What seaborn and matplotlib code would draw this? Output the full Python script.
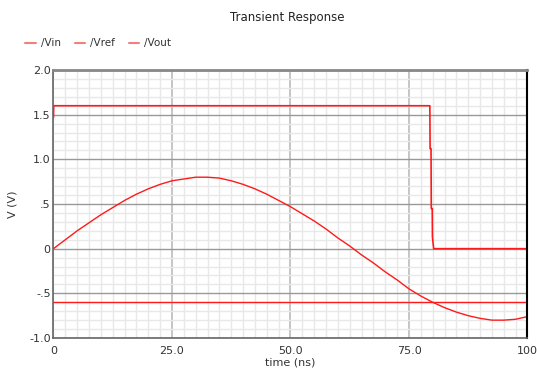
import pandas as pd
import seaborn as sns
import matplotlib.pyplot as plt
from matplotlib.ticker import MultipleLocator
from matplotlib.lines import Line2D

# Values
vout_time = [0, 2.5, 5, 7.5, 10, 12.5, 15, 17.5, 20, 22.5, 25, 27.5, 30, 32.5, 35, 37.5,
             40, 42.5, 45, 47.5, 50, 52.5, 55, 57.5, 60, 62.5, 65, 67.5, 70, 72.5, 75,
             77.5, 80, 82.5, 85, 87.5, 90, 92.5, 95, 97.5, 100]
vout = [0.0, 0.1, 0.2, 0.29, 0.38, 0.46, 0.54, 0.61, 0.67, 0.72, 0.76, 0.78, 0.80, 0.80,
        0.79, 0.76, 0.72, 0.67, 0.61, 0.54, 0.47, 0.39, 0.31, 0.22, 0.12, 0.03, -0.07,
        -0.16, -0.26, -0.35, -0.45, -0.53, -0.60, -0.66, -0.71, -0.75, -0.78, -0.80,
        -0.80, -0.79, -0.76]
vin_time = [0, 0.05, 79.4, 79.45, 79.65, 79.7, 79.9, 79.95, 80.2, 100]
vin = [1.47, 1.6, 1.6, 1.12, 1.12, 0.45, 0.45, 0.13, 0.0, 0.0]
vref_time = [0, 100]
vref = [-0.6, -0.6]

names = ['/Vin', '/Vref', '/Vout']
yticks = [-1.0, -0.5, 0, 0.5, 1.0, 1.5, 2.0]
ytick_labels = ['-1.0', '-.5', '0', '.5', '1.0', '1.5', '2.0']
xticks = [0, 25, 50, 75, 100]
xtick_labels = ['0', '25.0', '50.0', '75.0', '100']

sns.set_style('white')
plt.rcParams['font.family'] = ['DejaVu Sans']

fig = plt.figure(figsize=(5.37, 3.71), dpi=100)
ax = fig.add_axes([0.0996, 0.0889, 0.8827, 0.7224])

red = '#ff1a1a'
sns.lineplot(x=vin_time, y=vin, color=red, lw=1.2, ax=ax)
sns.lineplot(x=vref_time, y=vref, color=red, lw=1.0, ax=ax)
sns.lineplot(x=vout_time, y=vout, color=red, lw=1.0, ax=ax)

ax.set_xlim(0, 100)
ax.set_ylim(-1.0, 2.0)

# grid
ax.xaxis.set_minor_locator(MultipleLocator(2.5))
ax.yaxis.set_minor_locator(MultipleLocator(0.1))
ax.set_xticks(xticks)
ax.set_xticklabels(xtick_labels)
ax.set_yticks(yticks)
ax.set_yticklabels(ytick_labels)
ax.grid(which='minor', color='#e8e8e8', lw=1.0)
ax.grid(which='major', axis='x', color='#bbbbbb', lw=1.2)
ax.grid(which='major', axis='y', color='#999999', lw=1.0)
ax.set_axisbelow(True)

ax.tick_params(which='both', direction='out', color='#444444', labelsize=8,
               labelcolor='#333333', pad=2)
ax.tick_params(which='major', length=4, width=1)
ax.tick_params(which='minor', length=2.5, width=0.8)
ax.tick_params(axis='y', which='both', direction='in')

for side in ['left', 'bottom']:
    ax.spines[side].set_color('#666666')
    ax.spines[side].set_linewidth(1.2)
ax.spines['top'].set_color('#888888')
ax.spines['top'].set_linewidth(2)
ax.spines['right'].set_color('black')
ax.spines['right'].set_linewidth(1.5)

ax.set_xlabel('time (ns)', fontsize=8, color='#333333', labelpad=1)
ax.set_ylabel('V (V)', fontsize=8, color='#333333', labelpad=8)
fig.suptitle('Transient Response', x=0.535, y=0.97, fontsize=8.5, color='#222222')

handles = [Line2D([], [], color='#f08080', lw=1.5) for _ in names]
fig.legend(handles, names, loc='center left', bbox_to_anchor=(0.03, 0.883), ncol=3,
           frameon=False, fontsize=7.5, handlelength=1.0, handletextpad=0.5,
           columnspacing=1.3, labelcolor='#333333')

fig.savefig('out.png', dpi=100)
